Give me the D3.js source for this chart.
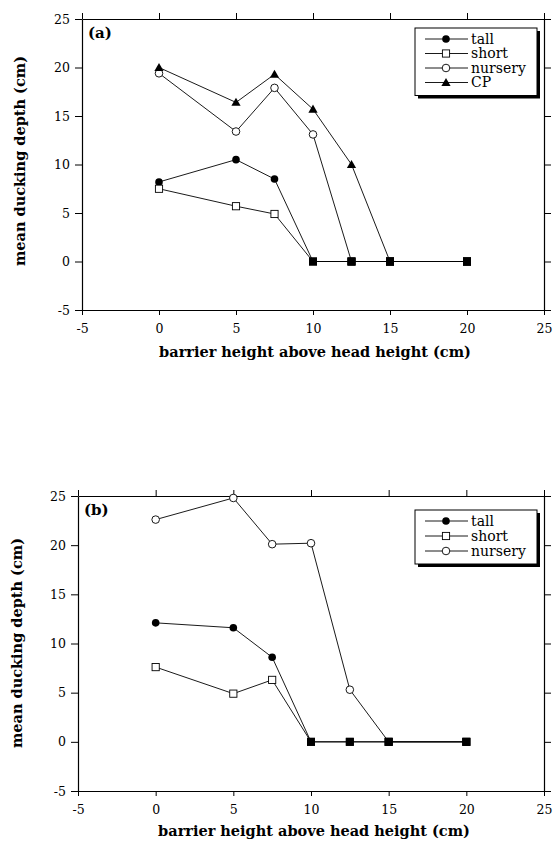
<!DOCTYPE html>
<html>
<head>
<meta charset="utf-8">
<script src="https://cdn.jsdelivr.net/npm/d3@7"></script>
<style>
  html, body { margin: 0; padding: 0; background: #fff; }
  svg { display: block; }
</style>
</head>
<body>
<svg id="chart" width="553" height="843"></svg>
<script>
// ---- data ----
const xValues = [0, 5, 7.5, 10, 12.5, 15, 20];
const xTicks = [-5, 0, 5, 10, 15, 20, 25];
const yTicks = [-5, 0, 5, 10, 15, 20, 25];

// panel (a)
const tallA    = [8.2, 10.5, 8.5, 0, 0, 0, 0];
const shortA   = [7.5, 5.7, 4.9, 0, 0, 0, 0];
const nurseryA = [19.4, 13.4, 17.9, 13.1, 0, 0, 0];
const cpA      = [20.0, 16.4, 19.3, 15.7, 10.0, 0, 0];

// panel (b)
const tallB    = [12.1, 11.6, 8.6, 0, 0, 0, 0];
const shortB   = [7.6, 4.9, 6.3, 0, 0, 0, 0];
const nurseryB = [22.6, 24.8, 20.1, 20.2, 5.3, 0, 0];

const seriesNames = ["tall", "short", "nursery", "CP"];
const xTitle = "barrier height above head height (cm)";
const yTitle = "mean ducking depth (cm)";

// ---- drawing ----
const svg = d3.select("#chart");
const serif = "'DejaVu Serif', 'Liberation Serif', serif";

function marker(sel, type, cx, cy) {
  if (type === "tall") {
    sel.append("circle").attr("cx", cx).attr("cy", cy).attr("r", 3.8).attr("fill", "#000");
  } else if (type === "short") {
    sel.append("rect").attr("x", cx - 3.6).attr("y", cy - 3.6).attr("width", 7.2).attr("height", 7.2)
      .attr("fill", "#fff").attr("stroke", "#000").attr("stroke-width", 0.9);
  } else if (type === "nursery") {
    sel.append("circle").attr("cx", cx).attr("cy", cy).attr("r", 3.8)
      .attr("fill", "#fff").attr("stroke", "#000").attr("stroke-width", 0.9);
  } else if (type === "CP") {
    const s = 4.6;
    sel.append("path").attr("d", `M${cx},${cy - s}L${cx + s},${cy + s * 0.75}L${cx - s},${cy + s * 0.75}Z`)
      .attr("fill", "#000");
  }
}

function drawPanel(cfg) {
  const x = d3.scaleLinear().domain([-5, 25]).range([cfg.left, cfg.right]);
  const y = d3.scaleLinear().domain([-5, 25]).range([cfg.bottom, cfg.top]);
  const g = svg.append("g");

  const fmt = d => String(d);
  const styleAxis = a => {
    a.select(".domain").attr("stroke", "#000").attr("stroke-width", 1.2);
    a.selectAll(".tick line").attr("stroke", "#000").attr("stroke-width", 1);
    a.selectAll("text").attr("font-family", serif).attr("font-size", 12.5).attr("fill", "#000");
  };

  g.append("g").attr("transform", `translate(0,${cfg.bottom})`)
    .call(d3.axisBottom(x).tickValues(xTicks).tickFormat(fmt).tickSizeInner(5).tickSizeOuter(0).tickPadding(9))
    .call(styleAxis);
  g.append("g").attr("transform", `translate(0,${cfg.top})`)
    .call(d3.axisTop(x).tickValues(xTicks).tickFormat("").tickSizeInner(6).tickSizeOuter(0))
    .call(styleAxis);
  g.append("g").attr("transform", `translate(${cfg.left},0)`)
    .call(d3.axisLeft(y).tickValues(yTicks).tickFormat(fmt).tickSizeInner(7).tickSizeOuter(0).tickPadding(5))
    .call(styleAxis);
  g.append("g").attr("transform", `translate(${cfg.right},0)`)
    .call(d3.axisRight(y).tickValues(yTicks).tickFormat("").tickSizeInner(7).tickSizeOuter(0))
    .call(styleAxis);
  g.selectAll(".domain").attr("fill", "none");

  // panel label
  g.append("text").attr("x", cfg.left + 6).attr("y", cfg.top + 19)
    .attr("font-family", serif).attr("font-weight", "bold").attr("font-size", 15)
    .text(cfg.label);

  // series
  const line = d3.line().x(d => x(d[0])).y(d => y(d[1]));
  cfg.series.forEach(s => {
    const pts = xValues.map((xv, i) => [xv, s.values[i]]);
    g.append("path").attr("d", line(pts)).attr("fill", "none")
      .attr("stroke", "#000").attr("stroke-width", 0.9);
  });
  cfg.series.forEach(s => {
    xValues.forEach((xv, i) => {
      const v = s.values[i];
      if (v === 0) {
        g.append("rect").attr("x", x(xv) - 4).attr("y", y(v) - 4)
          .attr("width", 8).attr("height", 8).attr("fill", "#000");
      } else {
        marker(g, s.name, x(xv), y(v));
      }
    });
  });

  // legend
  const L = cfg.legend;
  const n = cfg.series.length;
  const lh = L.rowH * (n - 1) + 24;
  g.append("rect").attr("x", L.x + 3).attr("y", L.y + 3).attr("width", L.w).attr("height", lh)
    .attr("fill", "#000");
  g.append("rect").attr("x", L.x).attr("y", L.y).attr("width", L.w).attr("height", lh)
    .attr("fill", "#fff").attr("stroke", "#000").attr("stroke-width", 1);
  cfg.series.forEach((s, i) => {
    const ry = L.y + 11 + i * L.rowH;
    g.append("line").attr("x1", L.x + 10).attr("x2", L.x + 53).attr("y1", ry).attr("y2", ry)
      .attr("stroke", "#000").attr("stroke-width", 0.9);
    marker(g, s.name, L.x + 31, ry);
    g.append("text").attr("x", L.x + 56).attr("y", ry + 4.5)
      .attr("font-family", serif).attr("font-size", 14).text(s.name);
  });

  // axis titles
  g.append("text").attr("x", cfg.xTitleX).attr("y", cfg.xTitleY).attr("text-anchor", "middle")
    .attr("font-family", serif).attr("font-weight", "bold").attr("font-size", 14.5).text(xTitle);
  g.append("text").attr("transform", `translate(${cfg.yTitleX},${cfg.yTitleY}) rotate(-90)`)
    .attr("text-anchor", "middle")
    .attr("font-family", serif).attr("font-weight", "bold").attr("font-size", 14.5).text(yTitle);
}

drawPanel({
  left: 82, right: 544, top: 19, bottom: 310, label: "(a)",
  series: [
    { name: seriesNames[0], values: tallA },
    { name: seriesNames[1], values: shortA },
    { name: seriesNames[2], values: nurseryA },
    { name: seriesNames[3], values: cpA }
  ],
  legend: { x: 415, y: 28, w: 122, rowH: 14.5 },
  xTitleX: 315, xTitleY: 357, yTitleX: 25, yTitleY: 161
});

drawPanel({
  left: 78, right: 544, top: 496, bottom: 791, label: "(b)",
  series: [
    { name: seriesNames[0], values: tallB },
    { name: seriesNames[1], values: shortB },
    { name: seriesNames[2], values: nurseryB }
  ],
  legend: { x: 415, y: 510, w: 122, rowH: 15 },
  xTitleX: 314, xTitleY: 836, yTitleX: 22, yTitleY: 643
});
</script>
</body>
</html>
